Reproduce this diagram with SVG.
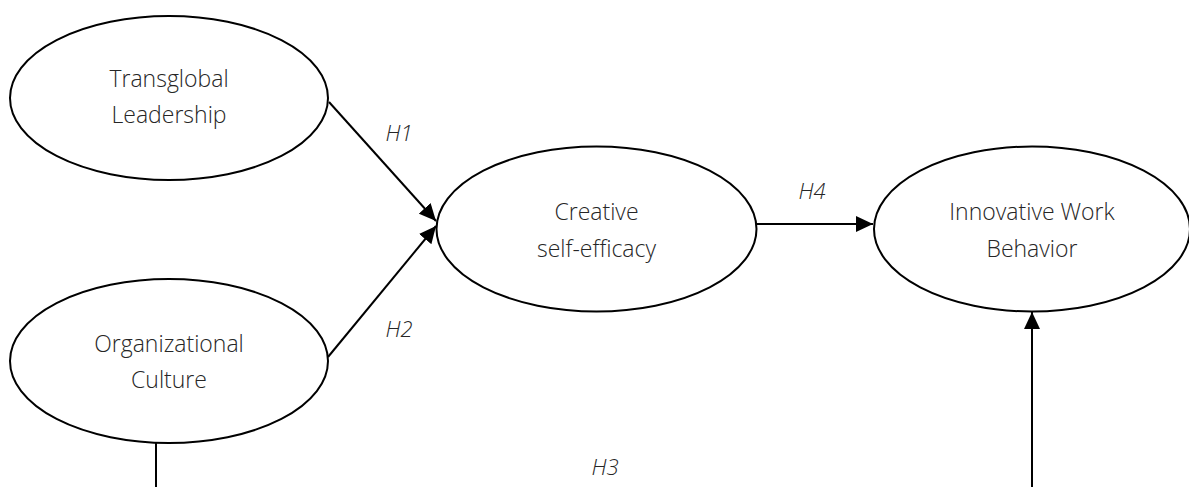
<svg xmlns="http://www.w3.org/2000/svg" width="1189" height="487" viewBox="0 0 1189 487">
<defs>
<marker id="arr" markerUnits="userSpaceOnUse" markerWidth="18" markerHeight="16" refX="17" refY="8" orient="auto">
<path d="M0,0 L17,8 L0,16 Z" fill="#000"/>
</marker>
<style>
.node ellipse{fill:#fff;stroke:#000;stroke-width:2}
.lbl{font-family:"Open Sans","Noto Sans",sans-serif;font-weight:300;font-size:23px;fill:#262626;text-anchor:middle}
.h{font-family:"Open Sans","Noto Sans",sans-serif;font-weight:300;font-style:italic;font-size:22px;fill:#262626;text-anchor:middle}
.conn line,.conn path{stroke:#000;stroke-width:2;fill:none}
</style>
</defs>
<g id="connectors" class="conn">
<line x1="329" y1="102" x2="436" y2="221" marker-end="url(#arr)"/>
<line x1="328" y1="357" x2="436" y2="226" marker-end="url(#arr)"/>
<line x1="756" y1="224" x2="873" y2="224" marker-end="url(#arr)"/>
<line x1="156" y1="443" x2="156" y2="487"/>
<line x1="1032" y1="487" x2="1032" y2="312" marker-end="url(#arr)"/>
</g>
<g id="labels">
<text class="h" x="399" y="141">H1</text>
<text class="h" x="399" y="337">H2</text>
<text class="h" x="812" y="199">H4</text>
<text class="h" x="605" y="475">H3</text>
</g>
<g id="n1" class="node">
<ellipse cx="169" cy="98" rx="159" ry="82"/>
<text class="lbl" x="169" y="87">Transglobal</text>
<text class="lbl" x="169" y="123">Leadership</text>
</g>
<g id="n2" class="node">
<ellipse cx="169" cy="361" rx="159" ry="82"/>
<text class="lbl" x="169" y="352">Organizational</text>
<text class="lbl" x="169" y="388">Culture</text>
</g>
<g id="n3" class="node">
<ellipse cx="596.5" cy="229" rx="160" ry="82.5"/>
<text class="lbl" x="596.5" y="220">Creative</text>
<text class="lbl" x="596.5" y="257">self-efficacy</text>
</g>
<g id="n4" class="node">
<ellipse cx="1032" cy="229" rx="158" ry="82.5"/>
<text class="lbl" x="1032" y="220">Innovative Work</text>
<text class="lbl" x="1032" y="257">Behavior</text>
</g>
</svg>
